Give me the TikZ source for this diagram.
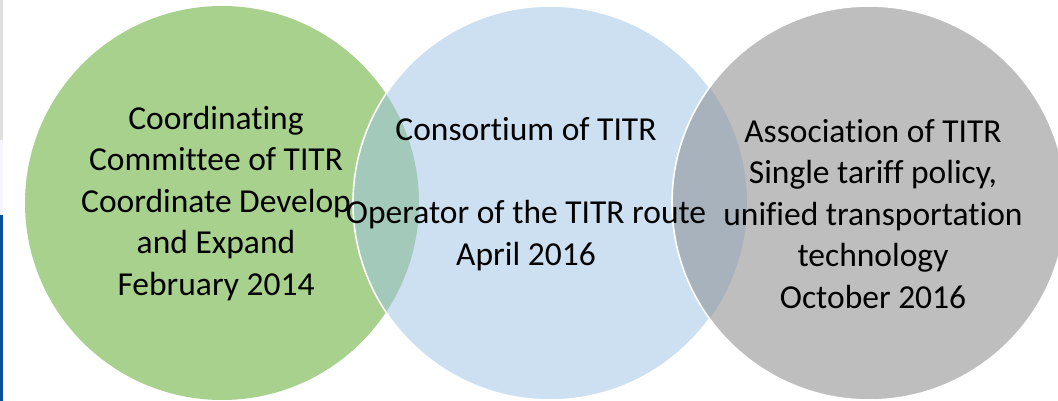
\documentclass[tikz,border=0pt]{standalone}
\usepackage{fontspec}
\setmainfont{Carlito}[Ligatures=NoCommon]
\definecolor{cgreen}{HTML}{A9D18E}
\definecolor{cblue}{HTML}{CDE0F1}
\definecolor{cgray}{HTML}{BEBEBE}
\definecolor{ovgb}{HTML}{A2C9B9}
\definecolor{ovbg}{HTML}{A7B2BD}
\definecolor{stripblue}{HTML}{0B4F9C}
\tikzset{
  disc/.style={circle, minimum size=394pt, inner sep=0pt},
  rim/.style={draw=white, line width=1.6pt},
  label/.style={align=center, font=\fontsize{33.5}{41.5}\selectfont, text=black, inner sep=0pt}
}
\begin{document}
\begin{tikzpicture}[x=1pt,y=-1pt]
\clip (0,0) rectangle (1058,401);
\fill[white] (0,0) rectangle (1058,401);
% left strip remnants
\fill[gray!25] (0,0) rectangle (3,140);
\fill[blue!4] (0,140) rectangle (3,215);
\fill[stripblue] (0,215) rectangle (3,401);
% circles
\node[disc, fill=cgreen] (g) at (222,203) {};
\node[disc, fill=cblue] (b) at (550,203) {};
\begin{scope}
  \clip (g.center) circle[radius=197pt];
  \fill[ovgb] (b.center) circle[radius=197pt];
\end{scope}
\draw[rim] (b.center) circle[radius=197pt];
\node[disc, fill=cgray] (r) at (869,203) {};
\begin{scope}
  \clip (b.center) circle[radius=197pt];
  \fill[ovbg] (r.center) circle[radius=197pt];
\end{scope}
\draw[rim] (r.center) circle[radius=197pt];
% texts
\node[label, anchor=base] (tg) at (216,295) {Coordinating\\Committee of TITR\\Coordinate Develop\\and Expand\\February 2014};
\node[label, anchor=base] (tb) at (526,265) {Consortium of TITR\\[41.5pt]Operator of the TITR route\\April 2016};
\node[label, anchor=base] (tr) at (873,308) {Association of TITR\\Single tariff policy,\\unified transportation\\technology\\October 2016};
\end{tikzpicture}
\end{document}
